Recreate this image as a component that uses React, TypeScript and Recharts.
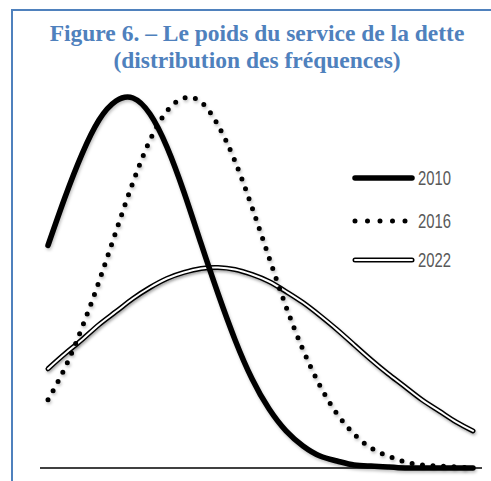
import { LineChart, Line, XAxis, YAxis } from "recharts";

// positions along the horizontal axis (no labels in the original)
const steps = [0, 1, 2, 3, 4, 5, 6, 7, 8, 9, 10, 11, 12, 13, 14, 15, 16, 17, 18, 19, 20, 21, 22, 23, 24, 25];

const s2010 = [222, 270, 313, 347, 366, 369, 353, 320, 275, 224, 174, 128, 89, 59, 37, 22, 12, 7, 3, 2, 1, 0, 0, 0, 0, 0];
const s2016 = [68, 100, 140, 186, 236, 285, 327, 356, 369, 365, 342, 306, 260, 210, 161, 118, 82, 54, 34, 20, 12, 6, 3, 2, 1, 0];
const s2022 = [99, 114, 128, 143, 156, 169, 180, 189, 195, 199, 200, 198, 193, 186, 176, 165, 152, 138, 123, 108, 94, 81, 68, 57, 46, 37];

const years = ["2010", "2016", "2022"];

const data = steps.map((x, i) => ({
  x,
  y2010: s2010[i],
  y2016: s2016[i],
  y2022: s2022[i],
}));

const BLUE = "#4F81BD";

const LegendMark = ({ kind, y }: { kind: number; y: number }) => {
  if (kind === 0)
    return <line x1={5} x2={62} y1={y} y2={y} stroke="#000" strokeWidth={5.5} strokeLinecap="round" />;
  if (kind === 1)
    return (
      <line x1={5} x2={60} y1={y} y2={y} stroke="#000" strokeWidth={5} strokeLinecap="round" strokeDasharray="0 12.5" />
    );
  return (
    <g>
      <line x1={5} x2={62} y1={y} y2={y} stroke="#000" strokeWidth={5} strokeLinecap="round" />
      <line x1={5} x2={62} y1={y} y2={y} stroke="#fff" strokeWidth={2} strokeLinecap="round" />
    </g>
  );
};

export default function App() {
  return (
    <div
      style={{
        position: "absolute",
        left: 0,
        top: 0,
        width: 491,
        height: 481,
        overflow: "hidden",
        background: "#fff",
      }}
    >
      <style>{`.recharts-line-curve { filter: drop-shadow(1px 2px 1.5px rgba(0,0,0,0.25)); }`}</style>
      <div
        style={{
          position: "absolute",
          left: 11,
          top: 9,
          width: 700,
          height: 700,
          border: `2px solid ${BLUE}`,
        }}
      />
      <div
        style={{
          position: "absolute",
          left: 0,
          top: 20,
          width: 514,
          textAlign: "center",
          fontFamily: "'Liberation Serif', serif",
          fontWeight: "bold",
          fontSize: 23.5,
          lineHeight: "27px",
          color: BLUE,
        }}
      >
        Figure 6. – Le poids du service de la dette
        <br />
        (distribution des fréquences)
      </div>
      <div style={{ position: "absolute", left: 0, top: 0 }}>
        <LineChart width={491} height={481} data={data} margin={{ top: 97, right: 9, bottom: 12, left: 40 }}>
          <XAxis
            dataKey="x"
            type="number"
            domain={[0, 25]}
            padding={{ left: 8, right: 9 }}
            height={1}
            tick={false}
            tickLine={false}
            axisLine={{ stroke: "#000", strokeWidth: 1.5 }}
          />
          <YAxis hide width={0} domain={[0, 370]} />
          <Line type="natural" dataKey="y2022" stroke="#000" strokeWidth={5} dot={false} strokeLinecap="round" isAnimationActive={false} />
          <Line type="natural" dataKey="y2022" stroke="#fff" strokeWidth={2} dot={false} strokeLinecap="round" isAnimationActive={false} />
          <Line
            type="natural"
            dataKey="y2016"
            stroke="#000"
            strokeWidth={5}
            strokeDasharray="0 10.5"
            strokeLinecap="round"
            dot={false}
            isAnimationActive={false}
          />
          <Line type="natural" dataKey="y2010" stroke="#000" strokeWidth={5.5} dot={false} strokeLinecap="round" isAnimationActive={false} />
        </LineChart>
      </div>
      <svg style={{ position: "absolute", left: 350, top: 160 }} width={120} height={120}>
        {years.map((yr, i) => {
          const cy = [18, 61, 100][i];
          return (
            <g key={yr}>
              <LegendMark kind={i} y={cy} />
              <text
                x={68}
                y={cy + 7}
                fontFamily="'Liberation Sans', sans-serif"
                fontSize={20}
                fill="#595959"
                textLength={33}
                lengthAdjust="spacingAndGlyphs"
              >
                {yr}
              </text>
            </g>
          );
        })}
      </svg>
    </div>
  );
}
